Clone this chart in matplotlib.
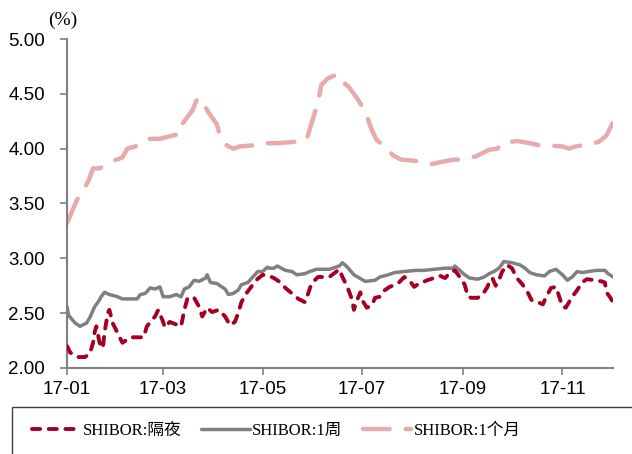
import matplotlib
matplotlib.use("Agg")
import matplotlib.pyplot as plt
import matplotlib.dates as mdates
from matplotlib.patches import Rectangle
import pandas as pd
import numpy as np

base = pd.Timestamp("2017-01-01")

# SHIBOR overnight: day offsets from 2017-01-01 and values (%)
on_days = [0, 2, 7, 11, 14, 16, 17, 18, 20, 22, 23, 25, 26, 28, 31, 34, 39, 47, 49, 54, 56, 59, 60, 63, 70, 72, 74, 78, 81, 83, 86, 89, 93, 97, 100, 103, 105, 107, 110, 114, 116, 120, 124, 127, 131, 134, 138, 142, 146, 148, 150, 154, 161, 167, 169, 172, 175, 176, 178, 180, 181, 184, 187, 189, 192, 195, 198, 203, 207, 210, 213, 216, 221, 229, 232, 235, 238, 241, 244, 246, 248, 252, 255, 258, 259, 261, 263, 265, 267, 270, 273, 276, 279, 282, 285, 289, 292, 294, 297, 300, 302, 304, 306, 310, 313, 316, 319, 324, 328, 330, 331, 333, 335]
on_vals = [2.20, 2.14, 2.10, 2.10, 2.13, 2.23, 2.33, 2.38, 2.23, 2.18, 2.32, 2.50, 2.53, 2.41, 2.32, 2.23, 2.28, 2.28, 2.38, 2.47, 2.53, 2.42, 2.37, 2.42, 2.38, 2.53, 2.64, 2.64, 2.56, 2.47, 2.55, 2.51, 2.53, 2.47, 2.39, 2.42, 2.50, 2.60, 2.68, 2.76, 2.80, 2.85, 2.84, 2.82, 2.78, 2.73, 2.68, 2.63, 2.60, 2.68, 2.77, 2.83, 2.83, 2.90, 2.83, 2.74, 2.62, 2.53, 2.62, 2.69, 2.62, 2.55, 2.57, 2.64, 2.65, 2.71, 2.74, 2.77, 2.83, 2.80, 2.74, 2.77, 2.80, 2.84, 2.82, 2.87, 2.89, 2.83, 2.76, 2.65, 2.64, 2.64, 2.67, 2.74, 2.78, 2.82, 2.75, 2.80, 2.88, 2.94, 2.91, 2.82, 2.77, 2.71, 2.62, 2.60, 2.58, 2.65, 2.73, 2.74, 2.65, 2.56, 2.55, 2.65, 2.71, 2.78, 2.81, 2.80, 2.79, 2.78, 2.69, 2.65, 2.60]

# SHIBOR 1 week
w1_days = [0, 1, 5, 8, 12, 14, 17, 19, 21, 23, 26, 31, 34, 43, 45, 48, 51, 54, 57, 59, 63, 67, 70, 72, 75, 78, 81, 85, 86, 88, 92, 97, 99, 102, 105, 107, 111, 114, 117, 120, 123, 124, 127, 129, 134, 138, 141, 146, 149, 153, 161, 167, 169, 172, 176, 183, 189, 192, 197, 201, 207, 214, 219, 225, 232, 237, 238, 241, 244, 247, 252, 256, 259, 262, 265, 268, 273, 278, 281, 284, 288, 293, 296, 300, 304, 307, 310, 313, 316, 320, 325, 330, 332, 335]
w1_vals = [2.56, 2.48, 2.41, 2.38, 2.41, 2.46, 2.56, 2.60, 2.65, 2.69, 2.67, 2.65, 2.63, 2.63, 2.67, 2.68, 2.73, 2.72, 2.74, 2.65, 2.65, 2.67, 2.65, 2.72, 2.74, 2.80, 2.79, 2.82, 2.85, 2.78, 2.77, 2.72, 2.67, 2.68, 2.71, 2.76, 2.78, 2.83, 2.88, 2.88, 2.92, 2.91, 2.91, 2.93, 2.89, 2.88, 2.85, 2.86, 2.88, 2.90, 2.90, 2.93, 2.96, 2.92, 2.85, 2.79, 2.80, 2.83, 2.85, 2.87, 2.88, 2.89, 2.89, 2.90, 2.91, 2.91, 2.93, 2.89, 2.85, 2.82, 2.81, 2.83, 2.86, 2.88, 2.91, 2.97, 2.96, 2.94, 2.91, 2.87, 2.85, 2.84, 2.88, 2.90, 2.85, 2.80, 2.83, 2.88, 2.87, 2.88, 2.89, 2.89, 2.86, 2.83]

# SHIBOR 1 month
m1_days = [0, 6, 13, 16, 20, 25, 34, 37, 42, 45, 49, 57, 65, 70, 71, 77, 80, 83, 86, 92, 94, 98, 102, 106, 114, 121, 129, 138, 147, 150, 154, 156, 160, 166, 170, 173, 178, 183, 187, 190, 197, 200, 205, 213, 224, 230, 237, 242, 251, 259, 264, 267, 276, 284, 290, 295, 304, 308, 312, 320, 326, 331, 335]
m1_vals = [3.32, 3.53, 3.70, 3.82, 3.82, 3.87, 3.92, 4.00, 4.02, 4.06, 4.09, 4.09, 4.12, 4.14, 4.23, 4.35, 4.46, 4.43, 4.35, 4.22, 4.11, 4.03, 4.00, 4.02, 4.03, 4.05, 4.05, 4.06, 4.08, 4.23, 4.42, 4.58, 4.64, 4.68, 4.60, 4.56, 4.46, 4.34, 4.17, 4.08, 3.99, 3.94, 3.90, 3.89, 3.86, 3.88, 3.90, 3.90, 3.93, 3.99, 4.00, 4.05, 4.07, 4.05, 4.03, 4.03, 4.02, 4.00, 4.02, 4.04, 4.06, 4.12, 4.24]

labels = ["SHIBOR:隔夜", "SHIBOR:1周", "SHIBOR:1个月"]
y_ticks = [2.0, 2.5, 3.0, 3.5, 4.0, 4.5, 5.0]
x_ticks = ["2017-01-01", "2017-03-01", "2017-05-01", "2017-07-01", "2017-09-01", "2017-11-01"]


def to_dates(days):
    return base + pd.to_timedelta(days, unit="D")


fig = plt.figure(figsize=(6.32, 4.54), dpi=100)
ax = fig.add_axes([67 / 632, 1 - 368 / 454, (613 - 67) / 632, (368 - 39) / 454])

l_m1, = ax.plot(to_dates(m1_days), m1_vals, color="#E8AAAA", lw=3.2, dashes=(6.0, 3.6),
                dash_capstyle="round", label=labels[2], zorder=2)
l_w1, = ax.plot(to_dates(w1_days), w1_vals, color="#808080", lw=2.5,
                solid_capstyle="round", solid_joinstyle="round", label=labels[1], zorder=3)
l_on, = ax.plot(to_dates(on_days), on_vals, color="#A50021", lw=2.8, dashes=(2.1, 2.2),
                dash_capstyle="round", label=labels[0], zorder=4)

ax.set_ylim(2.0, 5.0)
ax.set_xlim(base, base + pd.Timedelta(days=335))
ax.set_yticks(y_ticks)
ax.set_yticklabels([f"{v:.2f}" for v in y_ticks])
ax.set_xticks(pd.to_datetime(x_ticks))
ax.xaxis.set_major_formatter(mdates.DateFormatter("%y-%m"))

for s in ["top", "right"]:
    ax.spines[s].set_visible(False)
for s in ["left", "bottom"]:
    ax.spines[s].set_color("#808080")
    ax.spines[s].set_linewidth(1.5)

ax.tick_params(axis="both", direction="out", length=5, width=1.2, color="#808080",
               labelsize=13.5, labelcolor="black")
ax.tick_params(axis="y", pad=11)
ax.tick_params(axis="x", pad=4)
for lbl in ax.get_xticklabels() + ax.get_yticklabels():
    lbl.set_family("Liberation Sans")

fig.text(63 / 632, 1 - 20 / 454, "(%)", family=["Liberation Serif", "Noto Sans CJK SC"],
         fontsize=14, va="center", ha="center")

leg = fig.legend([l_on, l_w1, l_m1], labels,
                 loc="center left", bbox_to_anchor=(32 / 632, 1 - 431 / 454), ncol=3,
                 frameon=False, handlelength=2.9, handletextpad=0.15, columnspacing=1.2,
                 borderpad=0.0, borderaxespad=0.0,
                 prop={"family": ["Liberation Serif", "Noto Sans CJK SC"], "size": 12})

fig.patches.append(Rectangle((12 / 632, -0.02), 1.0, (454 - 407) / 454 + 0.02,
                             transform=fig.transFigure, fill=False,
                             edgecolor="#404040", lw=1.0))

fig.savefig("out.png", dpi=100)
